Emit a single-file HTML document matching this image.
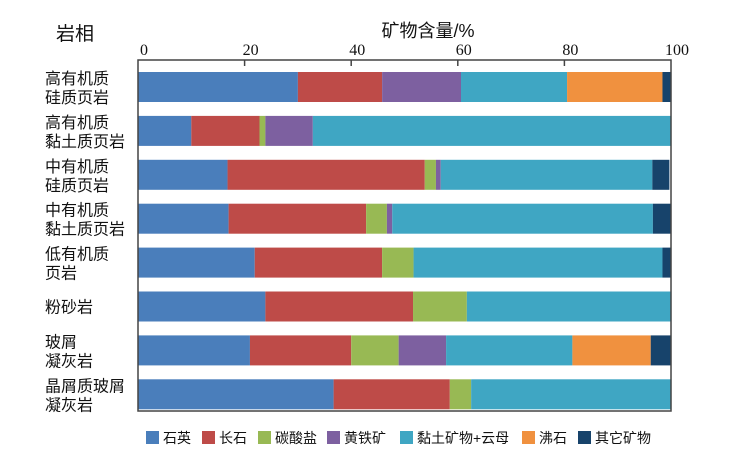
<!DOCTYPE html>
<html><head><meta charset="utf-8"><style>
body{margin:0;background:#fff;width:736px;height:460px;overflow:hidden;font-family:"Liberation Sans","Noto Sans CJK SC",sans-serif}
</style></head><body>
<svg id="c" width="736" height="460" xmlns="http://www.w3.org/2000/svg"></svg>
<script>
const categories=[["高有机质","硅质页岩"],["高有机质","黏土质页岩"],["中有机质","硅质页岩"],["中有机质","黏土质页岩"],["低有机质","页岩"],["粉砂岩"],["玻屑","凝灰岩"],["晶屑质玻屑","凝灰岩"]];
const seriesNames=["石英","长石","碳酸盐","黄铁矿","黏土矿物+云母","沸石","其它矿物"];
const quartz=[30,10,16.8,17,21.9,23.9,21,36.7];
const feldspar=[15.8,12.8,37,25.8,23.9,27.7,19,21.8];
const carbonate=[0,1.1,2.1,3.9,5.9,10.1,8.9,4];
const pyrite=[14.8,8.9,0.9,1,0,0,8.9,0];
const clay=[19.9,67.2,39.7,48.9,46.7,38.3,23.7,37.5];
const zeolite=[17.9,0,0,0,0,0,14.7,0];
const other=[1.6,0,3.2,3.4,1.6,0,3.8,0];
const tickLabels=["0","20","40","60","80","100"];
const colors=["#4a7ebb","#be4b48","#98b954","#7d60a0","#3fa6c3","#f0913f","#17436b"];
const series=[quartz,feldspar,carbonate,pyrite,clay,zeolite,other];
const NS="http://www.w3.org/2000/svg",svg=document.getElementById('c');
const X0=138,X1=671,Y0=60,Y1=411;
const x=v=>X0+(X1-X0)*v/100;
const rowY=i=>72+i*43.9;
function mk(t,a,p){const e=document.createElementNS(NS,t);for(const k in a)e.setAttribute(k,a[k]);(p||svg).appendChild(e);return e;}
const yt=mk('text',{x:75,y:40,'font-size':19,'text-anchor':'middle',fill:'#111'});yt.textContent="岩相";


const xt=mk('text',{x:428,y:37,'font-size':18,'text-anchor':'middle',fill:'#111'});xt.textContent="矿物含量/%";


categories.forEach((c,i)=>{
  for(let s=0;s<series.length;s++){
    let start=0;for(let k=0;k<s;k++)start+=series[k][i];
    const v=series[s][i];if(v<=0)continue;
    const r=mk('rect',{x:x(start),y:rowY(i),width:x(start+v)-x(start),height:30,fill:colors[s]});
    
    
  }
  const t=mk('text',{x:45,'font-size':16,fill:'#111'});
  
  
  const cy=rowY(i)+15;
  c.forEach((line,j)=>{const ts=mk('tspan',{x:45,y:c.length==1?cy+6:cy-3+j*19},t);ts.textContent=line;});
});
const fr=mk('rect',{x:X0,y:Y0,width:X1-X0,height:Y1-Y0,fill:'none',stroke:'#444','stroke-width':1.5});


tickLabels.forEach((l,i)=>{
  const v=+l;
  if(i>0&&i<tickLabels.length-1)mk('line',{x1:x(v),x2:x(v),y1:Y0,y2:Y0+6,stroke:'#444','stroke-width':1.5});
  const t=mk('text',{x:x(v)+6,y:55,'font-size':16,'text-anchor':'middle','font-family':'Liberation Serif, serif',fill:'#111'});
  t.textContent=l;
  
  
});
const lx=[146,202,258,327,400,522,578];
seriesNames.forEach((n,i)=>{
  const g=mk('g',{});
  
  
  mk('rect',{x:lx[i],y:431,width:13,height:13,fill:colors[i]},g);
  const t=mk('text',{x:lx[i]+17,y:443,'font-size':14,fill:'#111'},g);t.textContent=n;
});
</script>
</body></html>
